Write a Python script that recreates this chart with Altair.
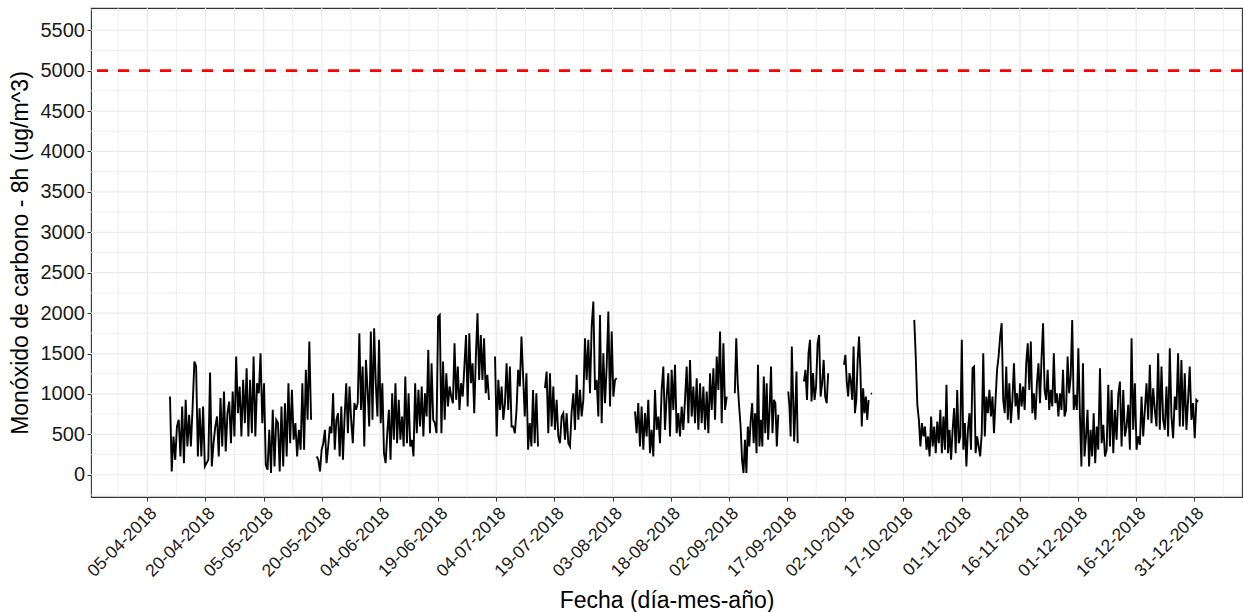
import altair as alt
import pandas as pd

# ---------------- data ----------------
# Each segment: (id, first timestamp, last timestamp, values in µg/m^3)
SEG_A = [968, 41, 474, 185, 597, 680, 227, 845, 144, 927, 350, 742, 350, 845, 1400, 1339, 227, 824,
         227, 845, 103, 144, 185, 1265, 103, 391, 597, 721, 227, 948, 350, 1030, 288, 762, 906, 391,
         1030, 474, 1463, 762, 1092, 474, 1174, 639, 1318, 474, 1174, 515, 1463, 474, 1133, 1009, 1504,
         639, 1133, 124, 62, 556, 21, 803, 103, 680, 639, 41, 845, 103, 886, 227, 1133, 391, 1050, 433,
         639, 227, 556, 309, 1133, 309, 1298, 680, 1648, 680]
SEG_B = [227, 185, 41, 309, 391, 556, 144, 350, 597, 515, 1009, 309, 680, 762, 227, 845, 185, 721,
         1133, 515, 1092, 680,
         391, 886, 803, 886, 1751, 803, 1339, 350, 1421, 1050, 597, 1772, 680, 1813, 1133, 721, 1669,
         639, 1133, 268, 144, 515, 803, 185, 1009, 433, 1133, 391, 927, 433, 721, 350, 1215, 391, 1009,
         350, 433, 227, 1133, 515, 1050, 597, 1092, 474, 1009, 721, 1545, 515, 1380, 680, 639, 515,
         1957, 1978, 515, 1400, 680, 1257, 845, 1092, 968, 886, 1627, 927, 1339, 803, 1133, 968, 1339,
         1730, 845, 1751, 1133, 1380, 762, 1463, 1998, 1174, 1730, 1174, 1689, 1009, 1236, 927]
SEG_C = [1463, 474, 1174, 803, 1092, 680, 886, 1380, 803, 1339, 597, 597, 515, 803, 1298, 1092, 1710,
         1215, 721, 1257, 309, 639, 350, 1050, 391, 1009, 350]
SEG_D = [1071, 1277, 515, 1257, 597, 1092, 556, 927, 474, 391, 721, 762, 433, 762, 391, 350, 783, 1009,
         556, 1236, 680, 1050, 721, 927, 1689, 1174, 1669, 1009, 1833, 2142, 1050, 1174, 721, 1978, 639,
         1504, 886, 1339, 2019, 845, 1772, 968, 1174, 1195]
SEG_E1 = [783, 515, 886, 350, 845, 309, 762, 474, 927, 268, 556, 227, 1050, 556, 721, 391, 1050, 1339,
          556, 968, 1257, 474, 1298, 803, 1360, 515, 762, 474, 845, 556, 927, 1339, 639, 1421, 721, 1092,
          639, 1195, 556, 1133, 639, 1092, 556, 1030, 515, 1257, 803, 1318, 680, 1463, 1050,
          1772, 639, 1627, 803, 968]
SEG_E2 = [1009, 1689, 1133, 845, 597, 185, 21, 433, 21, 597, 350, 680, 886, 391, 762, 268, 1360, 350,
          680, 350, 1215, 515, 1133, 433, 803, 1339, 515, 927, 886, 350, 742]
SEG_F2 = [1030, 845, 474, 1586, 1009, 412, 803, 1277, 391]
SEG_F3 = [1154, 1298, 927, 1504, 1669, 906, 1257, 927, 1092, 1627, 1730, 968, 1133, 1421, 968, 886, 1257]
SEG_F4 = [1360, 1483, 1154, 968, 1257, 1154, 927, 1586, 762, 927, 1421, 1710, 1298, 597, 1071, 762, 968,
          680, 927]
SEG_F5 = [1009, 1000]
SEG_G1 = [1916, 1442, 865, 680, 350, 639, 474, 597, 309, 474, 227, 721, 350, 597, 268, 659, 391, 803,
          268, 721, 309, 1112, 268, 556, 185, 556, 824, 268, 1050, 391, 474, 1669, 309, 639, 103, 556,
          762, 309, 1318, 1339, 268, 474, 350, 227, 515, 1504, 474, 968, 762, 1050, 721, 968, 515, 927,
          1298, 1463, 1710, 1875, 927, 762, 1339, 680, 1133, 639, 927, 1380, 845, 1009, 680, 1133, 845,
          1092, 803, 1380, 1627, 1050, 1648, 762, 1009, 680, 1133, 1380, 886, 1442, 1875, 1050, 927,
          1298, 803, 1050, 845, 1504, 886, 1009, 721, 1009, 803, 1298, 721, 803, 1463, 1009, 1215, 1916,
          803, 989, 803, 1566, 762, 103, 1380, 227, 474, 803, 103, 556, 227, 762, 144, 597, 309]
SEG_G2 = [1318, 391, 618, 227, 309, 1112, 350, 1050, 268, 803, 433, 989, 1154, 350, 1050, 474, 597, 865,
          309, 1689, 556, 1133, 309, 474, 371, 968, 474, 803, 1133, 680, 1360, 639, 1071, 803, 597, 1504,
          556, 1339, 680, 556, 1092, 474, 1566, 721, 453, 968, 803, 1504, 597, 1421, 597, 1257, 556, 927,
          1339, 680, 886, 453, 927, 906]

SEGMENTS = [
    ("A", "2018-04-10 20:24", "2018-05-17 05:30", SEG_A),
    ("B", "2018-05-18 16:20", "2018-07-02 02:40", SEG_B),
    ("C", "2018-07-03 16:00", "2018-07-14 18:00", SEG_C),
    ("D", "2018-07-16 13:00", "2018-08-04 01:00", SEG_D),
    ("E1", "2018-08-08 18:00", "2018-09-01 10:00", SEG_E1),
    ("E2", "2018-09-03 12:00", "2018-09-14 17:00", SEG_E2),
    ("F2", "2018-09-17 07:00", "2018-09-19 17:00", SEG_F2),
    ("F3", "2018-09-21 08:00", "2018-09-27 14:00", SEG_F3),
    ("F4", "2018-10-01 16:00", "2018-10-08 00:00", SEG_F4),
    ("F5", "2018-10-08 14:00", "2018-10-08 20:00", SEG_F5),
    ("G", "2018-10-19 18:40", "2018-12-06 05:30", SEG_G1),
    ("G", "2018-12-06 16:00", "2018-12-31 23:00", SEG_G2),
]

TICK_DATES = ["2018-04-05", "2018-04-20", "2018-05-05", "2018-05-20", "2018-06-04", "2018-06-19",
              "2018-07-04", "2018-07-19", "2018-08-03", "2018-08-18", "2018-09-02", "2018-09-17",
              "2018-10-02", "2018-10-17", "2018-11-01", "2018-11-16", "2018-12-01", "2018-12-16",
              "2018-12-31"]
Y_TICKS = [0, 500, 1000, 1500, 2000, 2500, 3000, 3500, 4000, 4500, 5000, 5500]
LIMIT = 5000
X_RANGE = ["2018-03-21 11:30", "2019-01-12 07:00"]
Y_RANGE = [-275, 5775]

# ---------------- build tables ----------------
rows = []
for sid, start, end, vals in SEGMENTS:
    times = pd.date_range(start, end, periods=len(vals))
    for t, v in zip(times, vals):
        rows.append({"t": t, "v": v, "seg": sid})
df = pd.DataFrame(rows)


def dt(s):
    ts = pd.Timestamp(s)
    return alt.DateTime(year=ts.year, month=ts.month, date=ts.day, hours=ts.hour, minutes=ts.minute)


ticks = pd.to_datetime(TICK_DATES)
half = pd.Timedelta(hours=180)
minor_x = list(ticks - half) + [ticks[-1] + half]
df_gx_major = pd.DataFrame({"t": ticks})
df_gx_minor = pd.DataFrame({"t": minor_x})
df_gy_major = pd.DataFrame({"v": Y_TICKS})
df_gy_minor = pd.DataFrame({"v": [y - 250 for y in Y_TICKS] + [Y_TICKS[-1] + 250]})
df_limit = pd.DataFrame({"v": [LIMIT]})

FONT = "Liberation Sans"

x_axis = alt.Axis(
    values=[dt(s) for s in TICK_DATES], format="%d-%m-%Y", formatType="time",
    labelAngle=-45, labelAlign="right", labelBaseline="top", labelFontSize=17.5,
    labelColor="#1a1a1a", labelFont=FONT, labelPadding=3, labelOverlap=False,
    labelFlush=False, labelBound=False,
    tickColor="#333333", tickSize=4, tickWidth=1, grid=False, domain=False,
    title="Fecha (día-mes-año)", titleFont=FONT, titleFontSize=23, titleFontWeight="normal",
    titleColor="#000000", titleX=575.5, titleY=110, titleBaseline="alphabetic", titleAlign="center",
)
y_axis = alt.Axis(
    values=Y_TICKS, format="d", labelFontSize=20, labelColor="#1a1a1a", labelFont=FONT,
    labelPadding=2.5,
    tickColor="#333333", tickSize=4, tickWidth=1, grid=False, domain=False,
    title="Monóxido de carbono - 8h (ug/m^3)", titleFont=FONT, titleFontSize=23,
    titleFontWeight="normal", titleColor="#000000", titleAngle=270, titleX=-63.5, titleY=244.5,
    titleBaseline="alphabetic", titleAlign="center",
)
x_scale = alt.Scale(domain=[dt(X_RANGE[0]), dt(X_RANGE[1])], nice=False)
y_scale = alt.Scale(domain=Y_RANGE, nice=False, zero=False)

X = alt.X("t:T", scale=x_scale, axis=x_axis)
Y = alt.Y("v:Q", scale=y_scale, axis=y_axis)

gx_minor = alt.Chart(df_gx_minor).mark_rule(color="#EBEBEB", strokeWidth=0.8).encode(x=X)
gx_major = alt.Chart(df_gx_major).mark_rule(color="#EBEBEB", strokeWidth=1.2).encode(x=X)
gy_minor = alt.Chart(df_gy_minor).mark_rule(color="#EBEBEB", strokeWidth=0.8).encode(y=Y)
gy_major = alt.Chart(df_gy_major).mark_rule(color="#EBEBEB", strokeWidth=1.2).encode(y=Y)

line = alt.Chart(df).mark_line(color="black", strokeWidth=1.9, strokeJoin="miter").encode(
    x=X, y=Y, detail="seg:N", order="t:T"
)
limit = alt.Chart(df_limit).mark_rule(color="#FF0000", strokeWidth=2.8, strokeDash=[11, 10]).encode(y=Y)

chart = alt.layer(gx_minor, gx_major, gy_minor, gy_major, line, limit).properties(
    width=1151, height=489,
    autosize=alt.AutoSizeParams(type="none"),
    padding={"left": 91, "top": 8, "right": 2, "bottom": 115},
    background="white",
).configure_view(stroke="#333333", strokeWidth=1.1)

chart.save("out.html", embed_options={"renderer": "svg", "actions": False})
